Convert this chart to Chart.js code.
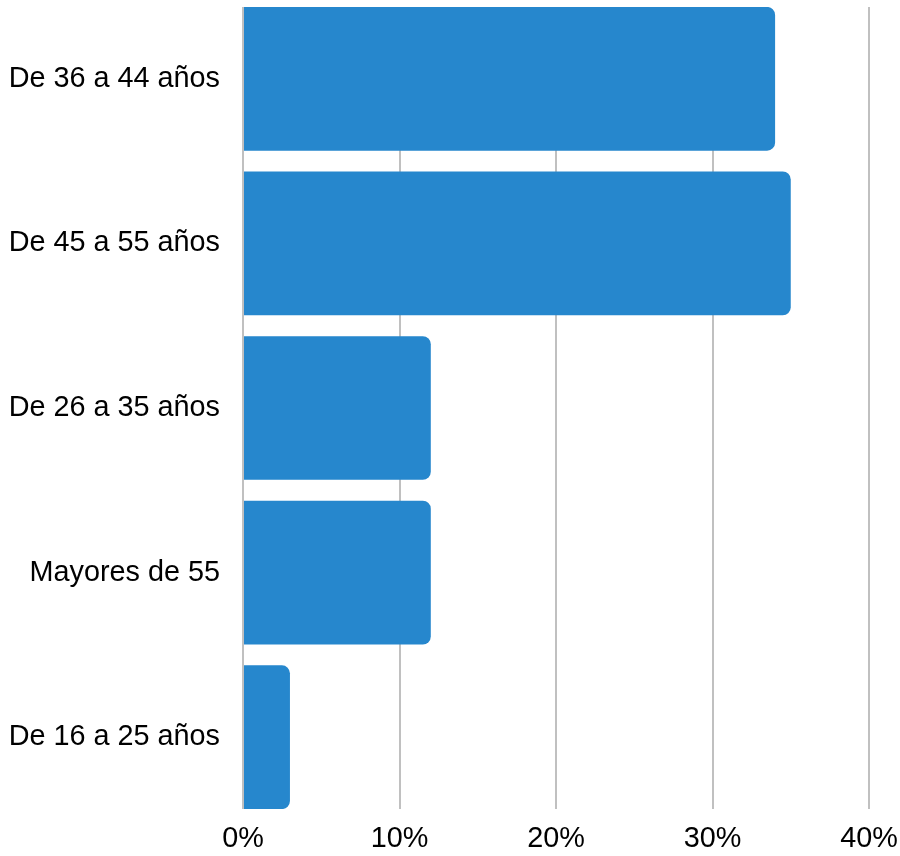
<!DOCTYPE html>
<html>
<head>
<meta charset="utf-8">
<script src="https://cdn.jsdelivr.net/npm/chart.js@4/dist/chart.umd.min.js"></script>
<style>
  html, body { margin: 0; padding: 0; background: #ffffff; }
  #wrap { width: 900px; height: 856px; position: relative; }
</style>
</head>
<body>
<div id="wrap"><canvas id="c"></canvas></div>
<script>
const categories = ["De 36 a 44 años", "De 45 a 55 años", "De 26 a 35 años", "Mayores de 55", "De 16 a 25 años"];
const percentValues = [34, 35, 12, 12, 3];
const xTickValues = [0, 10, 20, 30, 40];

const points = percentValues.map((v, i) => ({ x: v, y: i }));

new Chart(document.getElementById('c'), {
  type: 'bar',
  data: {
    datasets: [{
      data: points,
      backgroundColor: '#2687CD',
      borderWidth: 0,
      borderRadius: 8,
      borderSkipped: 'start',
      barPercentage: 0.873,
      categoryPercentage: 1.0
    }]
  },
  options: {
    indexAxis: 'y',
    responsive: true,
    maintainAspectRatio: false,
    animation: false,
    layout: { padding: { top: 7, right: 31, left: 0, bottom: 0 } },
    plugins: { legend: { display: false }, tooltip: { enabled: false } },
    scales: {
      x: {
        type: 'linear',
        min: 0,
        max: 40,
        afterBuildTicks: s => { s.ticks = xTickValues.map(v => ({ value: v })); },
        afterFit: s => { s.height = 47; s.paddingLeft = 0; s.paddingRight = 0; },
        grid: { color: '#c0c0c0', lineWidth: 2, drawTicks: false },
        border: { display: false },
        ticks: {
          padding: 13,
          color: '#000000',
          font: { family: '"Liberation Sans", Arial, sans-serif', size: 28.8 },
          callback: v => v + '%',
          maxRotation: 0
        }
      },
      y: {
        type: 'linear',
        reverse: true,
        offset: false,
        min: -0.436,
        max: 4.436,
        afterBuildTicks: s => { s.ticks = categories.map((_, i) => ({ value: i })); },
        afterFit: s => { s.width = 243; s.paddingTop = 0; s.paddingBottom = 0; },
        grid: { display: false, drawTicks: false, offset: false },
        border: { display: false },
        ticks: {
          padding: 23,
          color: '#000000',
          font: { family: '"Liberation Sans", Arial, sans-serif', size: 28.8 },
          callback: v => categories[v] ?? ''
        }
      }
    }
  }
});
</script>
</body>
</html>
